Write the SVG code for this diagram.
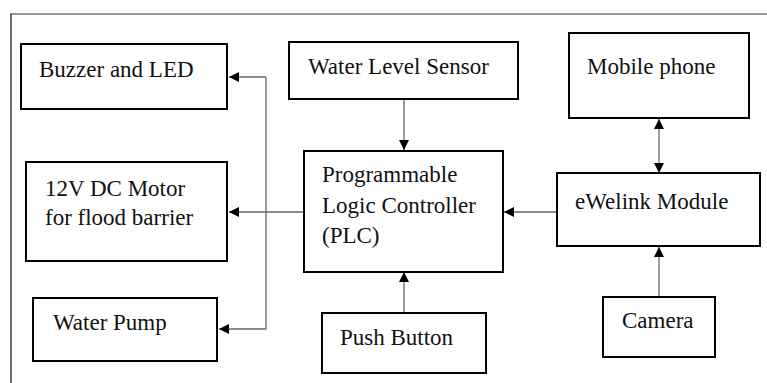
<svg xmlns="http://www.w3.org/2000/svg" width="767" height="383" viewBox="0 0 767 383">
<style>
.box{fill:#fff;stroke:#000;stroke-width:2}
.t{font-family:Tinos,"Times New Roman","Nimbus Roman","Nimbus Roman No9 L",FreeSerif,"Noto Serif","Liberation Serif",Times,Georgia,serif;font-size:23px;fill:#111}
.c{fill:none;stroke:#666;stroke-width:1.3}
</style>
<defs>
<marker id="ah" viewBox="0 0 10 10" refX="10" refY="5" markerWidth="10" markerHeight="10" markerUnits="userSpaceOnUse" orient="auto-start-reverse">
<path d="M0,0 L10,5 L0,10 Z" fill="#000"/>
</marker>
</defs>
<rect width="767" height="383" fill="#fff"/>
<g id="frame">
<line x1="10" y1="14" x2="767" y2="14" stroke="#777" stroke-width="1.5"/>
<line x1="11" y1="14" x2="11" y2="383" stroke="#222" stroke-width="1.3"/>
</g>
<g id="connectors">
<path class="c" d="M304,212 H229" marker-end="url(#ah)"/>
<path class="c" d="M266,77 V329"/>
<path class="c" d="M266,77 H229" marker-end="url(#ah)"/>
<path class="c" d="M266,329 H219" marker-end="url(#ah)"/>
<path class="c" d="M404,99 V150" marker-end="url(#ah)"/>
<path class="c" d="M404,313 V272" marker-end="url(#ah)"/>
<path class="c" d="M557,212 H504" marker-end="url(#ah)"/>
<path class="c" d="M659,119 V173" marker-start="url(#ah)" marker-end="url(#ah)"/>
<path class="c" d="M659,297 V247" marker-end="url(#ah)"/>
</g>
<g id="buzzer"><rect class="box" x="21" y="44" width="206" height="65"/><text class="t" x="39" y="77">Buzzer and LED</text></g>
<g id="motor"><rect class="box" x="26" y="162" width="201" height="99"/><text class="t" x="45" y="196">12V DC Motor</text><text class="t" x="45" y="225">for flood barrier</text></g>
<g id="pump"><rect class="box" x="33" y="298" width="184" height="63"/><text class="t" x="53" y="330">Water Pump</text></g>
<g id="sensor"><rect class="box" x="289" y="42" width="229" height="57"/><text class="t" x="308" y="74">Water Level Sensor</text></g>
<g id="plc"><rect class="box" x="304" y="151" width="199" height="121"/><text class="t" x="322" y="182">Programmable</text><text class="t" x="322" y="213">Logic Controller</text><text class="t" x="322" y="243">(PLC)</text></g>
<g id="button"><rect class="box" x="322" y="313" width="164" height="60"/><text class="t" x="340" y="345">Push Button</text></g>
<g id="phone"><rect class="box" x="569" y="33" width="180" height="85"/><text class="t" x="587" y="74">Mobile phone</text></g>
<g id="ewelink"><rect class="box" x="557" y="173" width="203" height="73"/><text class="t" x="575" y="209">eWelink Module</text></g>
<g id="camera"><rect class="box" x="603" y="297" width="112" height="60"/><text class="t" x="622" y="328">Camera</text></g>
</svg>
